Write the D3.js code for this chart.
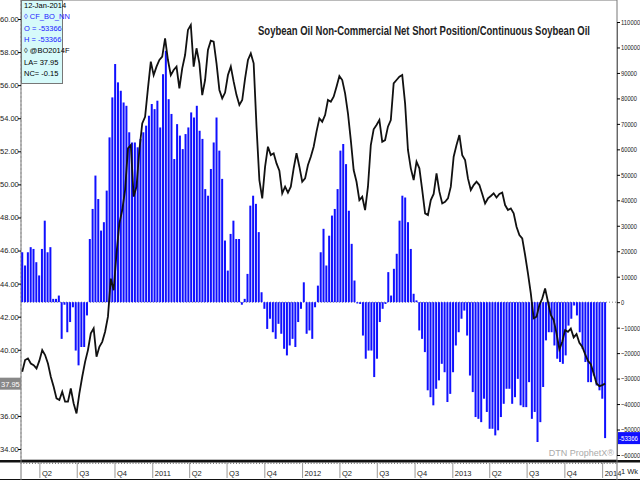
<!DOCTYPE html>
<html>
<head>
<meta charset="utf-8">
<script src="https://cdn.jsdelivr.net/npm/d3@7"></script>
<style>
body { margin: 0; background: #fff; }
text { font-family: "Liberation Sans", Arial, sans-serif; }
</style>
</head>
<body>
<svg id="chart" width="640" height="480"></svg>
<script>
// weekly net position (thousand contracts), oldest first, last week = 7-Jan-2014
var netPos = [
 19.6,14.4,19.6,21.6,20.9,15.7,10.5,20.9,32,19.6,21.6,1.3,1.3,2.6,-14.4,-1,-11.8,-7.8,-2,-19,
 -24.8,-17.6,-17.6,-5.2,24.8,36.6,49.7,40.5,28.1,31.4,43.8,64.7,80.4,93.5,86.3,83,78.4,77.1,66.7,62.7,
 62.7,60.8,64.1,66.7,69.3,73.2,77.8,75.8,79.1,68.6,89.5,98.7,79.7,73.9,56.2,69.9,65.4,60.1,66,68.6,
 74.5,72.5,77.1,67.3,64.1,44.4,41.8,52.3,62.7,72.5,
 59.5,48.4,24.2,12.4,26.8,32,24.8,24.8,-1,1.3,11.1,37.9,41.8,38.6,27.5,3.9,-2.6,-10.5,-6.5,-11.8,
 -14.4,-8.5,-12.4,-18.3,-20.9,-17,-14.4,-17.6,-7.8,-2.6,7.8,-12.4,-11.1,-14.4,-2,6.5,19.6,28.8,14.4,26.1,
 34,36.6,44.4,59.5,62.1,54.2,35.9,22.9,8.5,-0.5,-0.7,-13.1,-22.2,-19,-19,-29.4,-22.2,-7.8,-2.6,-0.7,
 11.8,2.6,13.1,19,32,
 41.8,41.1,31.4,20.9,3.3,0.7,-11.1,-14.4,-19.6,-34.6,-37.3,-40.5,-34,-30.7,-24.2,-27.5,-39.2,-36,-27.5,-17,
 -11.8,-6.5,-3.3,-13.1,-28.8,-35.3,-45.1,-45.8,-47.1,-37.9,-43.1,-49.7,-49.7,-52.3,-50.3,-45.1,-39.9,-34,-34,-39.9,
 -37.3,-30.1,-40.5,-41.2,-41.2,-31.4,-45.8,-43.1,-54.9,-47.1,-33.3,-15,-11.8,-11.8,-17,-22.2,-23.5,-24.2,-20.9,-9.2,
 -6.5,-1.3,-5.2,-11.8,-18.3,-23.5,-31.4,-31.4,-28.8,-32.7,-34.6,-37.9,-53.366
];

// weekly continuous soybean oil price (cents/lb), oldest first
var price = [
 38.67,39.38,39.48,39.17,39.07,38.87,39.34,39.98,39.68,39.17,38.37,37.76,37.06,36.96,37.46,36.86,36.86,37.66,36.75,36.15,
 37.36,38.37,39.27,39.98,40.99,41.29,39.58,40.18,40.48,41.09,42.0,44.3,43.6,45.83,47.64,48.45,49.66,52.18,52.38,49.26,
 49.86,52.08,53.69,54.09,55.81,57.42,56.61,57.12,57.52,57.72,58.83,57.52,56.61,56.92,57.12,55.81,57.02,57.82,59.34,59.64,
 57.12,58.23,57.32,55.40,56.31,58.13,58.69,58.63,57.32,55.71,
 55.20,55.55,56.61,57.12,56.21,55.40,54.80,55.10,56.41,57.52,57.92,57.32,53.49,50.26,49.15,51.07,52.28,51.77,51.88,51.27,
 50.83,49.46,49.86,49.50,49.86,50.97,51.88,51.07,50.16,50.36,51.17,51.67,52.28,53.19,53.99,53.79,54.19,55.10,55.00,55.30,
 55.91,56.55,56.31,55.50,54.30,52.68,50.87,50.16,49.05,49.25,48.45,49.86,52.38,53.33,53.59,53.89,52.58,52.68,53.49,53.89,
 56.11,56.31,56.51,56.61,54.90,
 52.08,50.97,50.26,51.37,50.97,49.66,48.25,48.15,49.05,49.42,50.67,49.56,48.85,48.95,49.15,49.86,51.67,52.38,52.98,51.77,
 51.47,50.36,49.66,49.96,50.16,49.96,49.42,48.85,49.15,49.30,49.46,49.21,49.42,49.50,48.75,48.45,48.55,48.25,47.44,46.94,
 46.73,45.73,44.62,43.41,41.90,42.0,42.70,43.10,43.71,42.90,42.10,41.80,40.99,40.02,40.48,41.19,41.09,41.29,40.75,40.95,
 40.42,40.18,39.74,39.33,39.13,38.57,37.96,37.80,37.86,37.95
];

var priceTicks = d3.range(34, 60.01, 2);
var netTicks = d3.range(-60000, 110001, 10000);
var legendLines = ["12-Jan-2014", "\u25CA CF_BO_NN", "O = -53366", "H = -53366", "\u25CA @BO2014F", "LA= 37.95", "NC= -0.15"];
var legendColors = ["#000", "#2222ff", "#2222ff", "#2222ff", "#000", "#000", "#000"];

var firstDate = new Date(2010, 1, 17);
var lastDate = new Date(2014, 0, 7);
// spread n weekly readings evenly from first to last week
function weekDates(n) {
  var t = d3.scaleLinear().domain([0, n - 1]).range([firstDate.getTime(), lastDate.getTime()]);
  return d3.range(n).map(function(i){ return new Date(t(i)); });
}
var barData = weekDates(netPos.length).map(function(d, i){ return {date: d, v: netPos[i] * 1000}; });
var lineData = weekDates(price.length).map(function(d, i){ return {date: d, v: price[i]}; });

var L = 21, R = 617, T = 0, B = 460;
var svg = d3.select("#chart");

var x = d3.scaleTime()
  .domain([new Date(2010, 1, 14), new Date(2014, 1, 5)])
  .range([L, R]);
var yNet = d3.scaleLinear().domain([-60000, 110000]).range([455, 22]);
var yPrice = d3.scaleLinear().domain([34, 60]).range([449, 19]);

// plot frame
svg.append("rect").attr("x", L).attr("y", T).attr("width", R - L).attr("height", B - T)
  .attr("fill", "#fff").attr("stroke", "#777");
svg.append("line").attr("x1", L).attr("x2", L).attr("y1", 0).attr("y2", B)
  .attr("stroke", "#999").attr("stroke-dasharray", "2,2");

svg.append("defs").append("clipPath").attr("id", "clip")
  .append("rect").attr("x", L).attr("y", T).attr("width", R - L).attr("height", B - T);
var plot = svg.append("g").attr("clip-path", "url(#clip)");

// zero line
plot.append("line").attr("x1", L).attr("x2", R).attr("y1", yNet(0)).attr("y2", yNet(0))
  .attr("stroke", "#888").attr("stroke-dasharray", "1,2");

// bars
plot.selectAll(".bar").data(barData).enter().append("rect")
  .attr("x", function(d){ return x(d.date) - 1; })
  .attr("width", 2)
  .attr("y", function(d){ return yNet(Math.max(0, d.v)); })
  .attr("height", function(d){ return Math.abs(yNet(d.v) - yNet(0)); })
  .attr("fill", "#1010ff");

// price line
plot.append("path").datum(lineData)
  .attr("d", d3.line().x(function(d){ return x(d.date); }).y(function(d){ return yPrice(d.v); }))
  .attr("fill", "none").attr("stroke", "#111").attr("stroke-width", 1.8);

// left axis
var la = svg.append("g").attr("transform", "translate(" + L + ",0)")
  .call(d3.axisLeft(yPrice).tickValues(priceTicks).tickFormat(d3.format(".2f")).tickSize(3));
la.select(".domain").remove();
la.selectAll("text").attr("font-size", 7.5).attr("text-anchor", "start").attr("x", -21).attr("fill", "#222");

// right axis (narrow labels, like the condensed original)
var ra = svg.append("g").attr("transform", "translate(" + R + ",0)")
  .call(d3.axisRight(yNet).tickValues(netTicks).tickFormat(d3.format("d")).tickSize(3));
ra.select(".domain").attr("stroke", "#666");
ra.selectAll("text").attr("font-size", 7.5).attr("x", 4).attr("fill", "#222")
  .attr("lengthAdjust", "spacingAndGlyphs")
  .attr("textLength", function(d){ return String(d).length * 3.2; });

// last value boxes
svg.append("rect").attr("x", 0).attr("y", yPrice(37.95) - 6).attr("width", 21).attr("height", 12).attr("fill", "#888");
svg.append("text").attr("x", 1).attr("y", yPrice(37.95) + 3).attr("font-size", 7.5).attr("fill", "#fff").text("37.95");
svg.append("rect").attr("x", R + 1).attr("y", yNet(-53366) - 6).attr("width", 22).attr("height", 12).attr("fill", "#1010ff");
svg.append("text").attr("x", R + 2).attr("y", yNet(-53366) + 3).attr("font-size", 7.5).attr("fill", "#fff")
  .attr("textLength", 19).attr("lengthAdjust", "spacingAndGlyphs").text("-53366");

// bottom axis
svg.append("rect").attr("x", 0).attr("y", B).attr("width", 640).attr("height", 2.5).attr("fill", "#111");
svg.append("line").attr("x1", 0).attr("x2", 640).attr("y1", 479.5).attr("y2", 479.5).attr("stroke", "#111");
var ba = svg.append("g").attr("transform", "translate(0," + (B + 2) + ")");
ba.selectAll(".mt").data(x.ticks(d3.timeWeek.every(1))).enter().append("line")
  .attr("x1", function(d){ return x(d); }).attr("x2", function(d){ return x(d); })
  .attr("y1", 0).attr("y2", 2).attr("stroke", "#777");
var quarters = x.ticks(d3.timeMonth.every(3));
ba.selectAll(".qt").data(quarters).enter().append("line")
  .attr("x1", function(d){ return x(d); }).attr("x2", function(d){ return x(d); })
  .attr("y1", 0).attr("y2", 16).attr("stroke", "#999");
ba.selectAll(".ql").data(quarters).enter().append("text")
  .attr("x", function(d){ return x(d) + 2; }).attr("y", 14).attr("font-size", 7.5).attr("fill", "#222")
  .text(function(d){ return d.getMonth() === 0 ? d.getFullYear() : "Q" + (d.getMonth() / 3 + 1); });
svg.append("line").attr("x1", L).attr("x2", L).attr("y1", B).attr("y2", 480).attr("stroke", "#777");
svg.append("line").attr("x1", R).attr("x2", R).attr("y1", B).attr("y2", 480).attr("stroke", "#777");
svg.append("text").attr("x", 621).attr("y", 474).attr("font-size", 7.5).attr("fill", "#222").text("1 Wk");

// title and watermark
svg.append("text").attr("x", 258).attr("y", 35).attr("font-size", 12).attr("font-weight", "bold")
  .attr("textLength", 332).attr("lengthAdjust", "spacingAndGlyphs").attr("fill", "#222")
  .text("Soybean Oil Non-Commercial Net Short Position/Continuous Soybean Oil");
svg.append("text").attr("x", 614).attr("y", 456).attr("text-anchor", "end").attr("font-size", 9)
  .attr("font-family", "DejaVu Sans Mono").attr("fill", "#aaa").text("DTN ProphetX\u00AE");

// legend box
var lg = svg.append("g");
lg.append("rect").attr("x", 21.5).attr("y", 0.5).attr("width", 41).attr("height", 83)
  .attr("fill", "#d6fafa").attr("stroke", "#777");
lg.selectAll("text").data(legendLines).enter().append("text")
  .attr("x", 24).attr("y", function(d, i){ return 8 + i * 11.3; })
  .attr("font-size", 7.5).attr("fill", function(d, i){ return legendColors[i]; })
  .text(function(d){ return d; });
</script>
</body>
</html>
